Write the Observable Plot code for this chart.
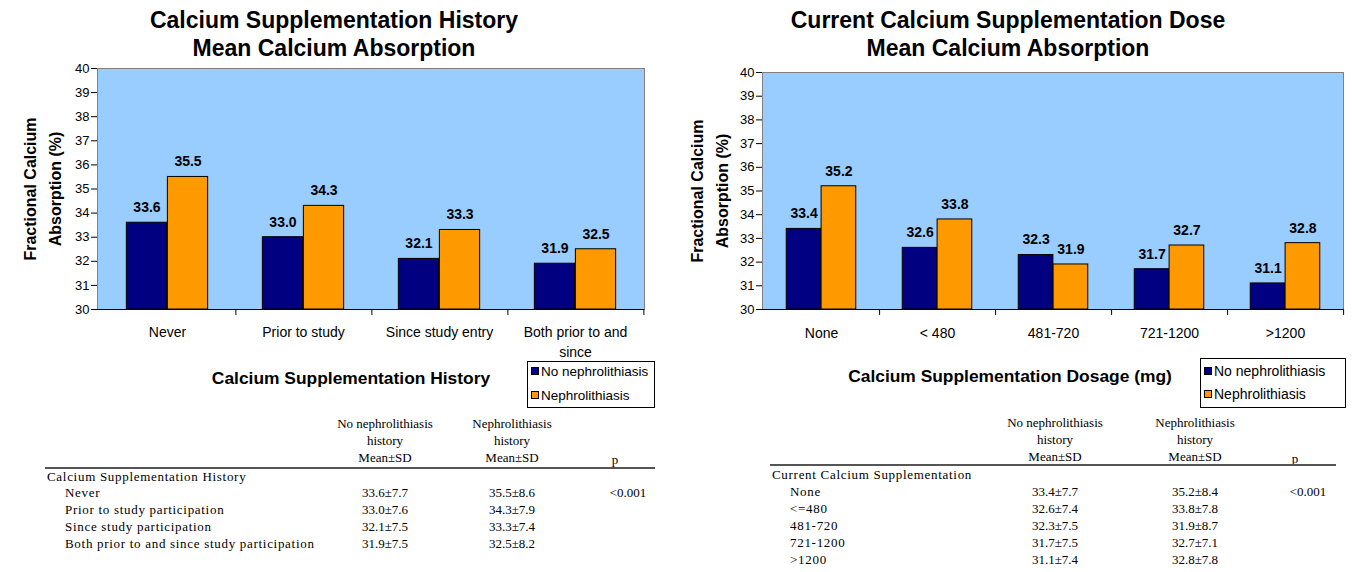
<!DOCTYPE html>
<html><head><meta charset="utf-8">
<script src="https://cdn.jsdelivr.net/npm/d3@7"></script>
<script src="https://cdn.jsdelivr.net/npm/@observablehq/plot@0.6"></script>
<style>
  html,body{margin:0;padding:0;}
  body{width:1352px;height:572px;position:relative;overflow:hidden;background:#fff;font-family:"Liberation Sans",Arial,sans-serif;color:#000;}
  .abs{position:absolute;white-space:nowrap;}
  .title{font-weight:bold;font-size:23px;line-height:28px;text-align:center;}
  .xtitle{font-weight:bold;font-size:17.4px;}
  .legend{border:1px solid #000;background:#fff;box-sizing:border-box;}
  .legend .item{position:absolute;left:3px;display:flex;align-items:center;height:16px;}
  .legend .sw{width:8px;height:8px;border:1px solid #000;margin-right:2px;box-sizing:border-box;}
  .tbl{font-family:"Liberation Serif","Times New Roman",serif;font-size:13px;line-height:16px;}
  .lab{letter-spacing:0.7px;}
  .c{transform:translate(-50%,-50%);}
  .l{transform:translate(0,-50%);}
</style></head>
<body>
<script>
// ---------- data ----------
const historyCategories = ["Never", "Prior to study", "Since study entry", "Both prior to and\nsince"];
const historyNoNeph = [33.6, 33.0, 32.1, 31.9];
const historyNeph = [35.5, 34.3, 33.3, 32.5];

const doseCategories = ["None", "< 480", "481-720", "721-1200", ">1200"];
const doseNoNeph = [33.4, 32.6, 32.3, 31.7, 31.1];
const doseNeph = [35.2, 33.8, 31.9, 32.7, 32.8];

const yTicks = [30, 31, 32, 33, 34, 35, 36, 37, 38, 39, 40];
const seriesNames = ["No nephrolithiasis", "Nephrolithiasis"];
const yLabel = "Fractional Calcium\nAbsorption (%)";

const tableHeaders = ["No nephrolithiasis\nhistory\nMean±SD", "Nephrolithiasis\nhistory\nMean±SD", "p"];
const historyRowLabels = ["Never", "Prior to study participation", "Since study participation", "Both prior to and since study participation"];
const historyNoNephSD = [7.7, 7.6, 7.5, 7.5];
const historyNephSD = [8.6, 7.9, 7.4, 8.2];
const doseRowLabels = ["None", "<=480", "481-720", "721-1200", ">1200"];
const doseNoNephSD = [7.7, 7.4, 7.5, 7.5, 7.4];
const doseNephSD = [8.4, 7.8, 8.7, 7.1, 7.8];
const pValue = "<0.001";

// ---------- styles ----------
const plotBg = "#99ccff";
const darkBlue = "#000080";
const orange = "#ff9900";

function el(cls, text, x, y, extra = {}) {
  const d = document.createElement("div");
  d.className = "abs " + cls;
  d.textContent = text;
  d.style.left = x + "px";
  d.style.top = y + "px";
  Object.assign(d.style, extra);
  document.body.appendChild(d);
  return d;
}

function drawChart(o) {
  const {categories, noNeph, neph, left, top, width, height, marginLeft, marginRight, marginTop, marginBottom, catDy} = o;
  const bw = (width - marginLeft - marginRight) / categories.length;
  const rows = categories.map((c, i) => ({cat: c, no: noNeph[i], yes: neph[i]}));
  const svg = Plot.plot({
    width, height, marginLeft, marginRight, marginTop, marginBottom,
    style: {background: "transparent", fontFamily: "Liberation Sans, Arial, sans-serif", fontSize: "13px", color: "#000", overflow: "visible"},
    x: {domain: categories, padding: 0, axis: null},
    y: {domain: [30, 40], ticks: yTicks, tickSize: 6, tickPadding: 2, label: null, line: true},
    marks: [
      Plot.frame({fill: plotBg, stroke: "#808080"}),
      Plot.barY(rows, {x: "cat", y1: 30, y2: "no", fill: darkBlue, stroke: "#000", strokeWidth: 1, insetLeft: 0.2 * bw, insetRight: 0.5 * bw}),
      Plot.barY(rows, {x: "cat", y1: 30, y2: "yes", fill: orange, stroke: "#000", strokeWidth: 1, insetLeft: 0.5 * bw, insetRight: 0.2 * bw}),
      Plot.text(rows, {x: "cat", y: "no", text: d => d.no.toFixed(1), dx: -0.15 * bw, dy: -15, fontWeight: "bold", fontSize: 14}),
      Plot.text(rows, {x: "cat", y: "yes", text: d => d.yes.toFixed(1), dx: 0.15 * bw, dy: -15, fontWeight: "bold", fontSize: 14}),
      Plot.ruleY([30], {stroke: "#000"}),
      Plot.ruleX(categories, {x: d => d, dx: bw / 2, y1: 30, y2: 29.75, stroke: "#000"}),
      Plot.text(categories, {x: d => d, frameAnchor: "bottom", lineAnchor: "top", dy: catDy, fontSize: 14, lineHeight: 1.43}),
      Plot.text([yLabel], {frameAnchor: "left", textAnchor: "middle", rotate: -90, dx: o.yLabelDx, fontWeight: "bold", fontSize: 16, lineHeight: 1.55})
    ]
  });
  svg.style.position = "absolute";
  svg.style.left = left + "px";
  svg.style.top = top + "px";
  document.body.appendChild(svg);
}

function drawLegend(x, y, w, h, y1, y2, fs) {
  const box = el("legend", "", x, y, {width: w + "px", height: h + "px", fontSize: fs + "px"});
  [[darkBlue, seriesNames[0], y1], [orange, seriesNames[1], y2]].forEach(([c, t, yy]) => {
    const it = document.createElement("div");
    it.className = "item";
    it.style.top = (yy - y - 9) + "px";
    const sw = document.createElement("div");
    sw.className = "sw"; sw.style.background = c;
    const tx = document.createElement("span");
    tx.textContent = t;
    it.appendChild(sw); it.appendChild(tx);
    box.appendChild(it);
  });
}

function drawTable(t) {
  const lines = h => h.split("\n");
  lines(tableHeaders[0]).forEach((s, i) => el("tbl c", s, t.col1, t.headY + i * 17));
  lines(tableHeaders[1]).forEach((s, i) => el("tbl c", s, t.col2, t.headY + i * 17));
  el("tbl c", tableHeaders[2], t.colP, t.headY + 36);
  el("", "", t.ruleX1, t.ruleY, {width: (t.ruleX2 - t.ruleX1) + "px", height: "2px", background: "#555"});
  el("tbl l lab", t.group, t.groupX, t.groupY);
  t.labels.forEach((lab, i) => {
    const yy = t.rowY + i * 17;
    el("tbl l lab", lab, t.labelX, yy);
    el("tbl c", t.mean1[i].toFixed(1) + "±" + t.sd1[i].toFixed(1), t.col1, yy);
    el("tbl c", t.mean2[i].toFixed(1) + "±" + t.sd2[i].toFixed(1), t.col2, yy);
    if (i === 0) el("tbl c", pValue, t.colP + 13, yy);
  });
}

// ---------- left chart ----------
el("title c", "Calcium Supplementation History\nMean Calcium Absorption", 334, 34, {whiteSpace: "pre"});
drawChart({categories: historyCategories, noNeph: historyNoNeph, neph: historyNeph,
  left: 0, top: 0, width: 676, height: 360, marginLeft: 97, marginRight: 32, marginTop: 68, marginBottom: 51,
  catDy: 13, yLabelDx: -57});
el("xtitle c", "Calcium Supplementation History", 351, 378);
drawLegend(527, 361, 128, 47, 371, 395, 13.5);
drawTable({col1: 385, col2: 512, colP: 615, headY: 424, ruleX1: 45, ruleX2: 655, ruleY: 467,
  group: "Calcium Supplementation History", groupX: 47, groupY: 477, labelX: 65, rowY: 493,
  labels: historyRowLabels, mean1: historyNoNeph, sd1: historyNoNephSD, mean2: historyNeph, sd2: historyNephSD});

// ---------- right chart ----------
el("title c", "Current Calcium Supplementation Dose\nMean Calcium Absorption", 1008, 34, {whiteSpace: "pre"});
drawChart({categories: doseCategories, noNeph: doseNoNeph, neph: doseNeph,
  left: 676, top: 0, width: 676, height: 360, marginLeft: 86, marginRight: 9, marginTop: 72, marginBottom: 51,
  catDy: 14, yLabelDx: -55});
el("xtitle c", "Calcium Supplementation Dosage (mg)", 1010, 376);
drawLegend(1200, 358, 146, 50, 371, 394, 14);
drawTable({col1: 1055, col2: 1195, colP: 1295, headY: 423, ruleX1: 770, ruleX2: 1336, ruleY: 464,
  group: "Current Calcium Supplementation", groupX: 772, groupY: 475, labelX: 790, rowY: 492,
  labels: doseRowLabels, mean1: doseNoNeph, sd1: doseNoNephSD, mean2: doseNeph, sd2: doseNephSD});
</script>
</body></html>
